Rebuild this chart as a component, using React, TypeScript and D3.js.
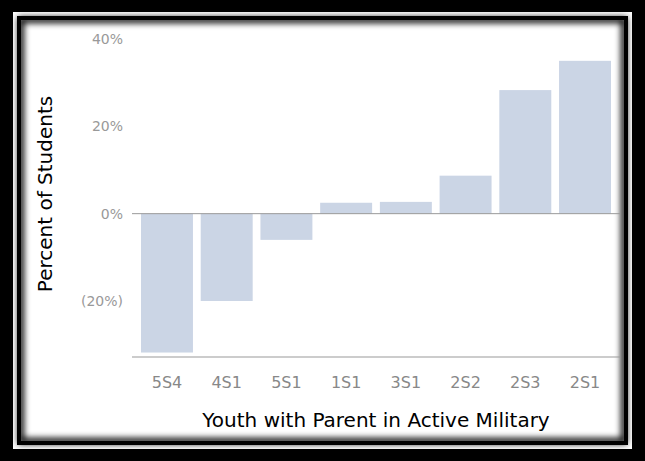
import * as d3 from "d3";
import React from "react";

const categories = ["5S4", "4S1", "5S1", "1S1", "3S1", "2S2", "2S3", "2S1"];
const values = [-31.8, -20, -6, 2.5, 2.7, 8.7, 28.3, 35];
const ticks = [40, 20, 0, -20];

const W = 645;
const H = 461;

const App = () => {
  const y = d3.scaleLinear().domain([-20, 40]).range([301, 39]);
  const x = d3.scaleBand().domain(categories).range([141, 611]).paddingInner(0.13).paddingOuter(0);
  const fmt = (v: number) => (v < 0 ? `(${Math.abs(v)}%)` : `${v}%`);
  return (
    <svg width={W} height={H} style={{ position: "absolute", left: 0, top: 0 }}>
      <defs>
        <filter id="sh" x="-5%" y="-5%" width="110%" height="110%">
          <feGaussianBlur stdDeviation="3" />
        </filter>
      </defs>
      <rect x={0} y={0} width={W} height={H} fill="#000" />
      <rect x={13} y={12} width={W - 26} height={H - 24} fill="#fff" />
      <rect x={17} y={16} width={W - 34} height={H - 32} fill="#000" />
      <rect x={21} y={20} width={W - 42} height={H - 40} fill="#fff" />
      <rect x={21} y={20} width={W - 42} height={H - 40} fill="none" stroke="#000" strokeWidth={6} filter="url(#sh)" />
      <g fontFamily="DejaVu Sans, sans-serif">
        {ticks.map((t) => (
          <text key={t} x={123} y={y(t)} dy="0.35em" textAnchor="end" fontSize={14} fill="#999">
            {fmt(t)}
          </text>
        ))}
        {categories.map((c, i) => {
          const v = values[i];
          return (
            <rect key={c} x={x(c)} width={x.bandwidth()} y={y(Math.max(0, v))} height={Math.abs(y(v) - y(0))} fill="#cbd5e5" />
          );
        })}
        <line x1={132} x2={620} y1={y(0)} y2={y(0)} stroke="#999" />
        <line x1={132} x2={620} y1={357} y2={357} stroke="#999" />
        {categories.map((c) => (
          <text key={c} x={(x(c) ?? 0) + x.bandwidth() / 2} y={382} dy="0.35em" textAnchor="middle" fontSize={16} fill="#888">
            {c}
          </text>
        ))}
        <text x={376} y={420} dy="0.35em" textAnchor="middle" fontSize={20} fill="#000">
          Youth with Parent in Active Military
        </text>
        <text transform="translate(45,194) rotate(-90)" dy="0.35em" textAnchor="middle" fontSize={20} fill="#000">
          Percent of Students
        </text>
      </g>
    </svg>
  );
};

export default App;
